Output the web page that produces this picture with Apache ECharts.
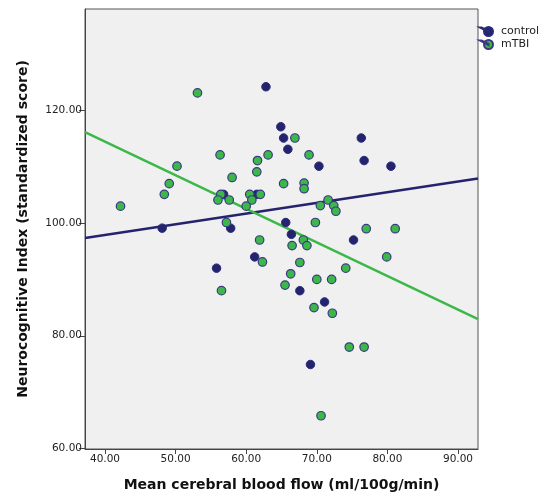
<!DOCTYPE html>
<html>
<head>
<meta charset="utf-8">
<script src="https://cdn.jsdelivr.net/npm/echarts@6/dist/echarts.min.js"></script>
<style>
  html, body { margin: 0; padding: 0; background: #fff; }
  #chart { width: 541px; height: 497px; }
</style>
</head>
<body>
<div id="chart"></div>
<script>
// Mean cerebral blood flow (x) vs Neurocognitive Index (y)
const controlPoints = [
  [62.8, 124.2], [64.9, 117.1], [65.3, 115.1], [65.9, 113.1], [76.3, 115.1],
  [76.7, 111.1], [70.3, 110.1], [80.5, 110.1], [48.1, 99.1], [57.8, 99.1],
  [56.8, 105.1], [61.5, 105.1], [61.2, 94.0], [55.8, 92.0], [65.6, 100.1],
  [66.4, 98.0], [75.2, 97.0], [67.6, 88.0], [71.1, 86.0], [69.1, 74.9]
];
const mtbiPoints = [
  [53.1, 123.1], [42.2, 103.0], [50.2, 110.1], [49.1, 107.0], [48.4, 105.1],
  [56.3, 112.1], [58.0, 108.1], [61.6, 111.1], [61.5, 109.1], [63.1, 112.1],
  [56.4, 105.1], [56.0, 104.1], [57.6, 104.1], [60.5, 105.1], [62.0, 105.1],
  [60.8, 104.1], [60.0, 103.0], [57.2, 100.1], [61.9, 97.0], [62.3, 93.1],
  [66.9, 115.1], [68.9, 112.1], [65.3, 107.0], [68.2, 107.1], [68.2, 106.1],
  [71.6, 104.1], [70.5, 103.1], [72.4, 103.1], [72.7, 102.1], [69.8, 100.1],
  [77.0, 99.0], [81.1, 99.0], [68.1, 97.0], [66.5, 96.0], [68.6, 96.0],
  [67.6, 93.0], [79.9, 94.0], [66.3, 91.0], [74.1, 92.0], [56.5, 88.0],
  [70.0, 90.0], [72.1, 90.0], [65.5, 89.0], [69.6, 85.0], [72.2, 84.0],
  [74.6, 78.0], [76.7, 78.0], [70.6, 65.8]
];
// Linear fit lines, given by their end points at the axis limits
const controlFit = [[37.17, 97.36], [92.83, 107.93]];
const mtbiFit = [[37.17, 116.16], [92.83, 82.96]];

const xTicks = [40, 50, 60, 70, 80, 90];
const yTicks = [60, 80, 100, 120];
const xRange = [37.17, 92.83];
const yRange = [59.9, 138.0];

const NAVY = '#24246e';
const GREEN = '#3cb84a';
const FONT = 'DejaVu Sans';

// legend symbol: a short slanted stroke running into a dot
const legendIcon = 'path://M0,0 L1.6,0 L8.5,3.4 L8.5,4.6 Z M13,4 A4.5,4.5 0 1,1 4,4 A4.5,4.5 0 1,1 13,4 Z';

const chart = echarts.init(document.getElementById('chart'), null, { renderer: 'canvas' });
chart.setOption({
  animation: false,
  backgroundColor: '#ffffff',
  grid: {
    left: 85, right: 63, top: 9, bottom: 45,
    show: true, backgroundColor: '#f0f0f0', borderColor: '#555555', borderWidth: 1
  },
  legend: {
    data: ['control', 'mTBI'],
    orient: 'vertical',
    left: 479, top: 26,
    itemWidth: 13, itemHeight: 9, itemGap: 2,
    icon: legendIcon,
    textStyle: { fontFamily: FONT, fontSize: 11, color: '#222', padding: [0, 0, 0, 3] },
    padding: 0
  },
  xAxis: {
    type: 'value', min: xRange[0], max: xRange[1],
    name: 'Mean cerebral blood flow (ml/100g/min)',
    nameLocation: 'middle', nameGap: 29,
    nameTextStyle: { fontFamily: FONT, fontSize: 14, fontWeight: 'bold', color: '#111' },
    axisLine: { show: true, lineStyle: { color: '#444', width: 1 } },
    axisTick: { show: true, length: 5, customValues: xTicks, lineStyle: { color: '#444' } },
    axisLabel: {
      customValues: xTicks, fontFamily: FONT, fontSize: 10.5, color: '#222', margin: 5,
      formatter: v => v.toFixed(2)
    },
    splitLine: { show: false }
  },
  yAxis: {
    type: 'value', min: yRange[0], max: yRange[1],
    name: 'Neurocognitive Index (standardized score)',
    nameLocation: 'middle', nameGap: 55,
    nameTextStyle: { fontFamily: FONT, fontSize: 14, fontWeight: 'bold', color: '#111' },
    axisLine: { show: true, lineStyle: { color: '#444', width: 1 } },
    axisTick: { show: true, length: 6, customValues: yTicks, lineStyle: { color: '#444' } },
    axisLabel: {
      customValues: yTicks, fontFamily: FONT, fontSize: 10.5, color: '#222', margin: 3,
      formatter: v => v.toFixed(2)
    },
    splitLine: { show: false }
  },
  series: [
    {
      name: 'control fit', type: 'line', data: controlFit, showSymbol: false, z: 1,
      lineStyle: { color: NAVY, width: 2.5 }, silent: true
    },
    {
      name: 'mTBI fit', type: 'line', data: mtbiFit, showSymbol: false, z: 1,
      lineStyle: { color: GREEN, width: 2.5 }, silent: true
    },
    {
      name: 'control', type: 'scatter', data: controlPoints, symbolSize: 8.5, z: 3,
      itemStyle: { color: NAVY, borderColor: '#2a2a78', borderWidth: 1, opacity: 1 }
    },
    {
      name: 'mTBI', type: 'scatter', data: mtbiPoints, symbolSize: 8.5, z: 3,
      itemStyle: { color: GREEN, borderColor: '#3a3a80', borderWidth: 1.2, opacity: 1 }
    }
  ]
});
</script>
</body>
</html>
